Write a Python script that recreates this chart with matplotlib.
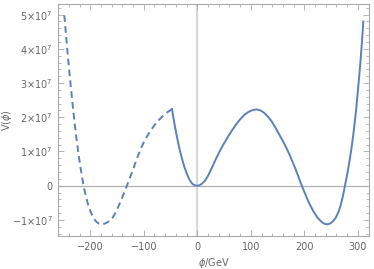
import matplotlib
matplotlib.use("Agg")
import matplotlib.pyplot as plt
from matplotlib.ticker import MultipleLocator, FuncFormatter

# Dashed branch (phi < ~ -47 GeV), V in units of 1e7
phi_dashed = [-248.6, -245, -242, -238, -235, -232, -228, -225, -222, -218, -215,
              -212.5, -210, -205, -200, -195, -190, -185, -179, -173, -167, -160,
              -155, -150, -145, -140, -135, -131, -125, -120, -115, -110, -105,
              -100, -93, -86, -80, -73, -67, -60, -53, -47.3]
V_dashed = [4.98, 4.35, 3.80, 3.15, 2.68, 2.22, 1.66, 1.28, 0.92, 0.50, 0.22,
            0.0, -0.19, -0.50, -0.74, -0.91, -1.03, -1.10, -1.13, -1.11, -1.06, -0.97,
            -0.85, -0.70, -0.52, -0.33, -0.13, 0.02, 0.27, 0.48, 0.70, 0.91, 1.10,
            1.27, 1.47, 1.64, 1.77, 1.90, 2.00, 2.10, 2.18, 2.24]

# Solid branch
phi_solid = [-47.3, -45, -42, -39, -36, -33, -30, -27, -24, -21, -18, -15, -12, -9,
             -6, -3, 0, 3, 6, 10, 15, 20, 25, 30, 35, 40, 45, 50, 58, 65, 72, 80,
             88, 95, 103, 111, 118, 125, 132, 139, 146, 153, 160, 166, 172, 178,
             184, 190, 195, 200, 205, 210, 217, 224, 231, 237, 243, 249, 254, 259,
             264, 268, 272, 276, 280, 284, 288, 292, 296, 300, 304, 307, 310.3]
V_solid = [2.24, 2.02, 1.75, 1.50, 1.27, 1.06, 0.87, 0.70, 0.54, 0.41, 0.29, 0.19,
           0.11, 0.055, 0.02, 0.005, 0.0, 0.007, 0.03, 0.075, 0.16, 0.29, 0.45, 0.62,
           0.79, 0.95, 1.10, 1.24, 1.45, 1.62, 1.78, 1.94, 2.07, 2.15, 2.21, 2.23,
           2.20, 2.13, 2.02, 1.88, 1.70, 1.50, 1.30, 1.12, 0.92, 0.70, 0.47, 0.22,
           0.01, -0.18, -0.37, -0.54, -0.75, -0.92, -1.04, -1.11, -1.13, -1.10,
           -1.03, -0.93, -0.76, -0.57, -0.31, 0.0, 0.32, 0.68, 1.08, 1.55, 2.10,
           2.75, 3.45, 4.05, 4.80]

scale = 1e7
x_ticks = [-200, -100, 0, 100, 200, 300]
y_ticks = [-1, 0, 1, 2, 3, 4, 5]

blue = "#5E81B5"
gray_frame = "#aaaaaa"
text_gray = "#666666"

fig = plt.figure(figsize=(3.74, 2.69), dpi=100)
ax = fig.add_axes([0.155, 0.1227, 0.8325, 0.8623])

ax.axhline(0, color="#b0b0b0", lw=0.9, zorder=1)
ax.axvline(0, color="#d8d8d8", lw=1.6, zorder=1)

ax.plot(phi_dashed, [v * scale for v in V_dashed], color=blue, lw=1.4,
        ls=(0, (3.4, 2.2)), zorder=3)
ax.plot(phi_solid, [v * scale for v in V_solid], color=blue, lw=1.4, zorder=3)

ax.set_xlim(-260.4, 321.5)
ax.set_ylim(-1.47e7, 5.31e7)

ax.set_xticks(x_ticks)
ax.set_yticks([t * scale for t in y_ticks])
ax.xaxis.set_minor_locator(MultipleLocator(20))
ax.yaxis.set_minor_locator(MultipleLocator(0.2e7))


def yfmt(v, pos):
    n = round(v / scale)
    if n == 0:
        return "0"
    s = "\u2212" if n < 0 else ""
    return s + str(abs(n)) + r"$\times$10$^{7}$"


def xfmt(v, pos):
    n = int(round(v))
    return ("\u2212" + str(-n)) if n < 0 else str(n)


ax.yaxis.set_major_formatter(FuncFormatter(yfmt))
ax.xaxis.set_major_formatter(FuncFormatter(xfmt))

ax.tick_params(which="both", direction="in", top=True, right=True,
               color=gray_frame, labelcolor=text_gray, labelsize=7, width=0.6)
ax.tick_params(which="major", length=4, pad=4)
ax.tick_params(which="minor", length=2)
for sp in ax.spines.values():
    sp.set_color(gray_frame)
    sp.set_linewidth(0.8)

ax.set_xlabel(r"$\phi$/GeV", color=text_gray, fontsize=7, labelpad=3)
ax.set_ylabel(r"V($\phi$)", color=text_gray, fontsize=7)
ax.yaxis.set_label_coords(-0.14, 0.5)

fig.savefig("out.png", dpi=100)
